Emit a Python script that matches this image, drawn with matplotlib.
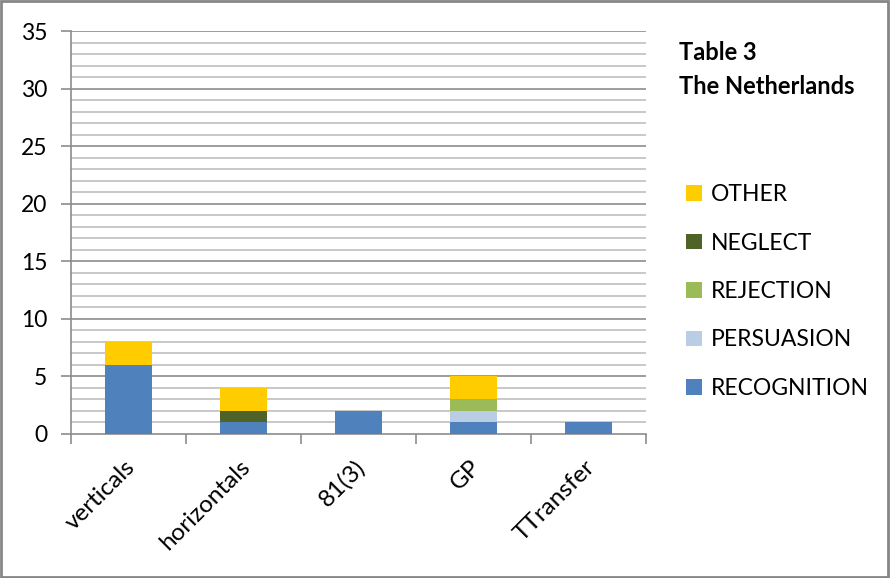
import matplotlib
matplotlib.use("Agg")
import matplotlib.pyplot as plt
from matplotlib.patches import Patch, Rectangle
from matplotlib.transforms import offset_copy
import numpy as np

categories = ["verticals", "horizontals", "81(3)", "GP", "TTransfer"]
recognition = [6, 1, 2, 1, 1]
persuasion = [0, 0, 0, 1, 0]
rejection = [0, 0, 0, 1, 0]
neglect = [0, 1, 0, 0, 0]
other = [2, 2, 0, 2, 0]

series = [
    ("RECOGNITION", recognition, "#4F81BD"),
    ("PERSUASION", persuasion, "#B9CDE5"),
    ("REJECTION", rejection, "#9BBB59"),
    ("NEGLECT", neglect, "#4F6228"),
    ("OTHER", other, "#FFCC00"),
]

plt.rcParams["font.family"] = ["Lato", "DejaVu Sans"]
FS = 16.5

fig = plt.figure(figsize=(8.9, 5.78), dpi=100)
ax = fig.add_axes([71 / 890, 1 - 434 / 578, 575 / 890, 403 / 578])

x = np.arange(len(categories))
bottom = np.zeros(len(categories))
handles = []
for name, vals, color in series:
    vals = np.array(vals, dtype=float)
    ax.bar(x, vals, width=0.41, bottom=bottom, color=color, linewidth=0, zorder=3)
    bottom += vals
    handles.append(Patch(facecolor=color, edgecolor="none", label=name))

ax.set_xlim(-0.5, len(categories) - 0.5)
ax.set_ylim(0, 35)

# gridlines: light every unit, darker every five
for v in range(1, 36):
    if v % 5 == 0:
        ax.axhline(v, color="#8C8C8C", lw=1.2, zorder=1)
    else:
        ax.axhline(v, color="#BFBFBF", lw=1.2, zorder=1)

ax.set_yticks(range(0, 36, 5))
ax.set_yticklabels([str(v) for v in range(0, 36, 5)], fontsize=FS)
ax.tick_params(axis="y", length=7, width=1.2, color="#8C8C8C", pad=10)

ax.set_xticks(np.arange(-0.5, len(categories), 1.0))
ax.set_xticklabels([])
ax.tick_params(axis="x", length=7, width=1.2, color="#8C8C8C")

for spine in ["top", "right"]:
    ax.spines[spine].set_visible(False)
for spine in ["left", "bottom"]:
    ax.spines[spine].set_color("#8C8C8C")
    ax.spines[spine].set_linewidth(1.2)

# rotated category labels, right end near each category centre
for i, cat in enumerate(categories):
    trans = offset_copy(ax.get_xaxis_transform(), fig=fig, x=-4, y=-22, units="dots")
    ax.text(i, 0, cat, transform=trans, rotation=45, ha="right", va="top",
            rotation_mode="anchor", fontsize=17.5)

fig.text(679 / 890, 1 - 53 / 578, "Table 3", fontsize=17, fontweight="bold", va="center")
fig.text(679 / 890, 1 - 87 / 578, "The Netherlands", fontsize=17, fontweight="bold", va="center")

fig.legend(handles=handles[::-1], loc="upper left",
           bbox_to_anchor=(686 / 890, 1 - 184 / 578), frameon=False,
           fontsize=FS, handlelength=0.68, handleheight=0.68, handletextpad=0.4,
           labelspacing=1.2, borderaxespad=0, borderpad=0)

fig.patches.append(Rectangle((0.001, 0.001), 0.997, 0.997, transform=fig.transFigure,
                             fill=False, edgecolor="#868686", lw=2))

fig.savefig("out.png", dpi=100)
